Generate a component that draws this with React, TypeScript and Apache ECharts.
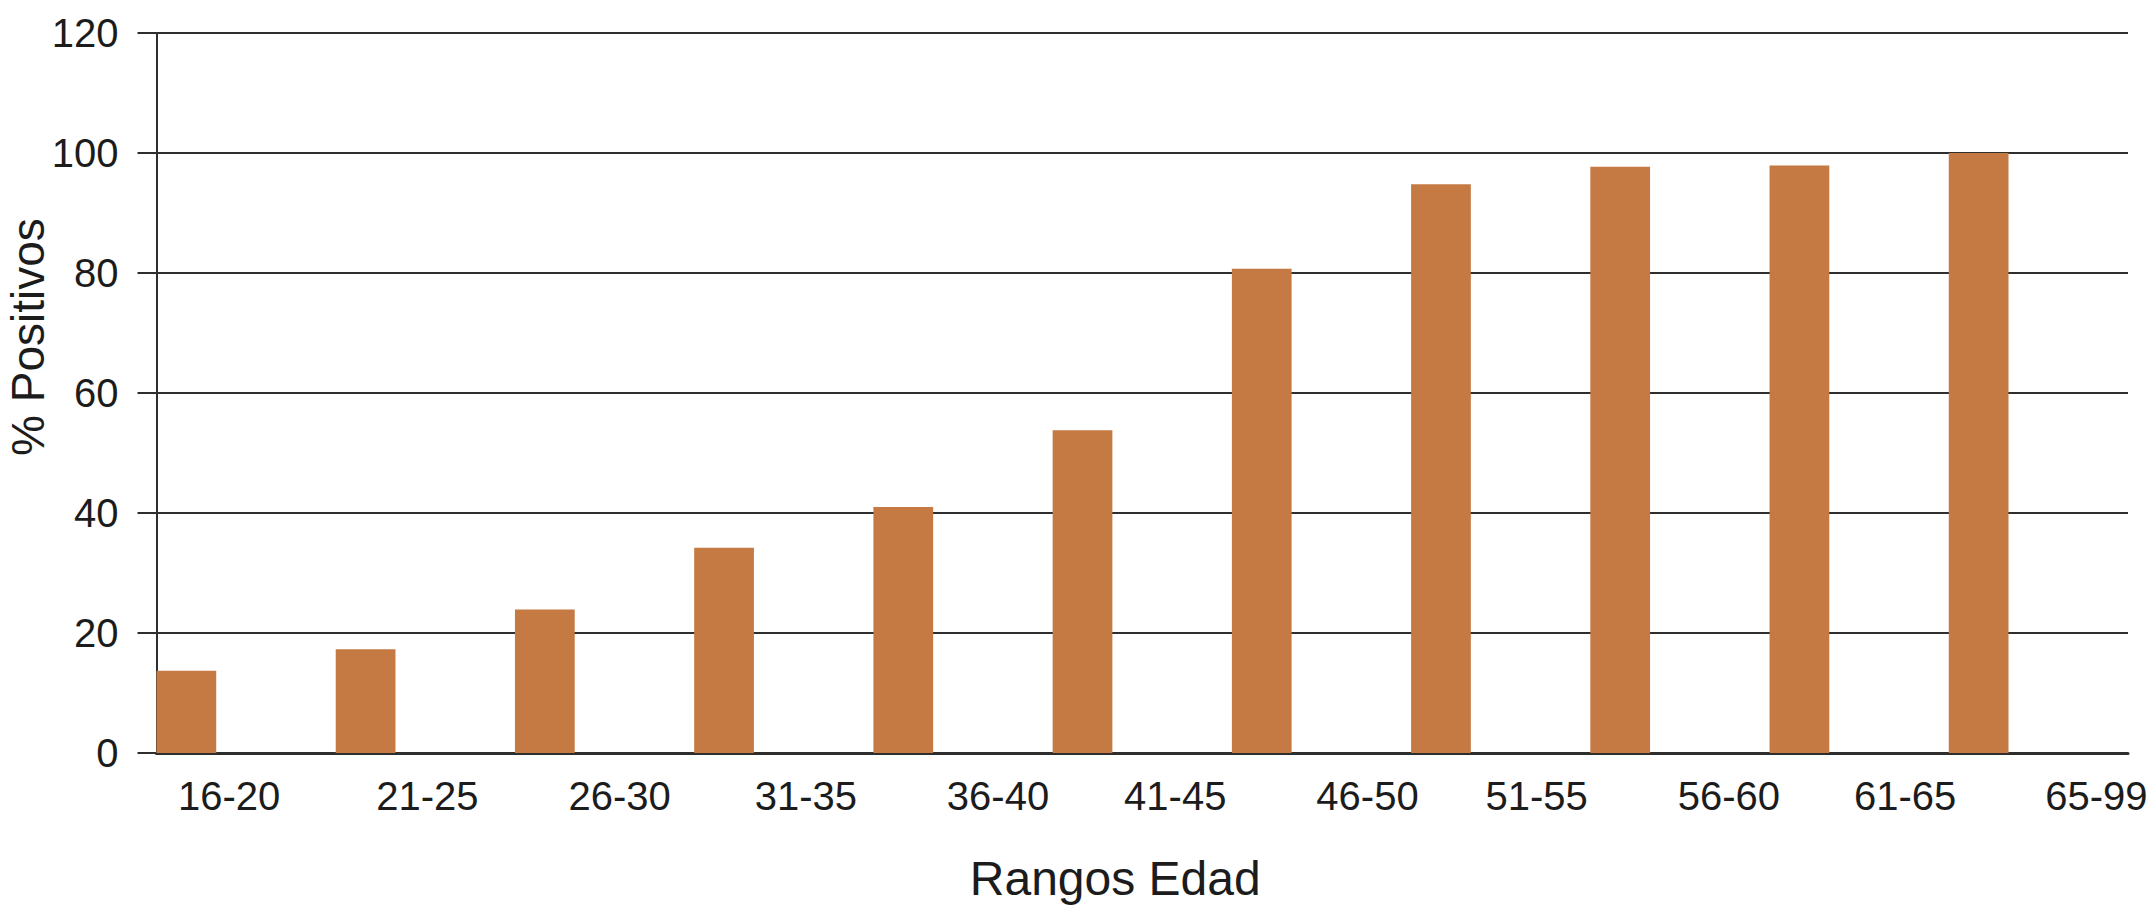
import React, { useEffect, useRef } from "react";
import * as echarts from "echarts";

const categories = ["16-20", "21-25", "26-30", "31-35", "36-40", "41-45", "46-50", "51-55", "56-60", "61-65", "65-99"];
const positivos = [13.7, 17.3, 23.9, 34.2, 41.0, 53.8, 80.7, 94.8, 97.7, 97.9, 100];
const yTicks = [0, 20, 40, 60, 80, 100, 120];

// horizontal nudge of each category label (layout only)
const labelShift = [-17, 2, 15, 22, 35, 33, 46, 36, 49, 46, 58];

const FONT = "'Liberation Sans', Arial, Helvetica, sans-serif";
const BAR = "#C47A42";
const INK = "#1c1c1c";
const LINE = "#2e2e2e";

export default function App() {
  const ref = useRef<HTMLDivElement>(null);

  useEffect(() => {
    if (!ref.current) return;
    const chart = echarts.init(ref.current, undefined, { renderer: "svg" });

    const rich: Record<string, any> = {};
    labelShift.forEach((s, i) => {
      rich["l" + i] = {
        fontSize: 40,
        fontFamily: FONT,
        color: INK,
        padding: s >= 0 ? [0, 0, 0, 2 * s] : [0, -2 * s, 0, 0],
      };
    });

    const empty = categories.map(() => null);

    chart.setOption({
      animation: false,
      backgroundColor: "#ffffff",
      textStyle: { fontFamily: FONT },
      grid: {
        left: 156.5,
        right: 23,
        top: 33,
        bottom: 155,
        containLabel: false,
        outerBoundsMode: "none",
      },
      xAxis: {
        type: "category",
        data: categories,
        name: "Rangos Edad",
        nameLocation: "middle",
        nameGap: 101,
        nameMoveOverlap: false,
        nameTextStyle: { fontSize: 48, fontFamily: FONT, color: INK, padding: [0, 54, 0, 0] },
        axisLine: { show: true, lineStyle: { color: LINE, width: 3 } },
        axisTick: { show: false },
        splitLine: { show: false },
        axisLabel: {
          interval: 0,
          margin: 23,
          fontSize: 40,
          color: INK,
          fontFamily: FONT,
          hideOverlap: false,
          formatter: (v: string, i: number) => `{l${i}|${v}}`,
          rich,
        },
      },
      yAxis: {
        type: "value",
        min: yTicks[0],
        max: yTicks[yTicks.length - 1],
        interval: yTicks[1] - yTicks[0],
        name: "% Positivos",
        nameLocation: "middle",
        nameGap: 106,
        nameRotate: 90,
        nameMoveOverlap: false,
        nameTextStyle: { fontSize: 46, fontFamily: FONT, color: INK, padding: [0, 0, 0, 112] },
        axisLine: { show: true, lineStyle: { color: LINE, width: 2 } },
        axisTick: { show: true, length: 19, inside: false, lineStyle: { color: LINE, width: 2 } },
        splitLine: { show: true, lineStyle: { color: LINE, width: 2 } },
        axisLabel: { margin: 38, fontSize: 40, color: INK, fontFamily: FONT },
      },
      series: [
        {
          type: "bar",
          data: positivos,
          barGap: "0%",
          barCategoryGap: "0%",
          itemStyle: { color: BAR },
          z: 3,
        },
        { type: "bar", data: empty, barGap: "0%", barCategoryGap: "0%", silent: true },
        { type: "bar", data: empty, barGap: "0%", barCategoryGap: "0%", silent: true },
      ],
    });

    return () => chart.dispose();
  }, []);

  return (
    <div
      ref={ref}
      style={{ position: "fixed", left: 0, top: 0, width: 2151, height: 908, background: "#fff" }}
    />
  );
}
